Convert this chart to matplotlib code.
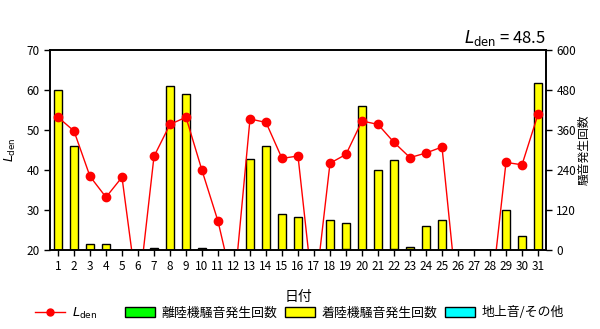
import matplotlib
matplotlib.use("Agg")
import matplotlib.pyplot as plt
import numpy as np
from matplotlib.lines import Line2D
from matplotlib.patches import Patch

plt.rcParams['font.family'] = ['Noto Sans CJK JP', 'DejaVu Sans']

days = list(range(1, 32))
day_labels = [str(d) for d in days]
lden = [53.2, 49.75, 38.4, 33.2, 38.2, 8, 43.4, 51.4, 53.2, 39.9,
        27.2, 10, 52.75, 51.9, 42.9, 43.5, 7, 41.7, 43.9, 52.25,
        51.4, 46.9, 43.1, 44.25, 45.75, 6, 6, 6, 41.9, 41.3, 53.9]
departure = [0, 0, 0, 0, 0, 0, 0, 0, 0, 0,
             0, 0, 0, 0, 0, 0, 0, 0, 4, 0,
             0, 2, 2, 0, 0, 0, 0, 0, 0, 0, 0]
arrival = [480, 312, 18, 18, 0, 0, 5, 492, 468, 5,
           0, 0, 272, 312, 107, 98, 0, 89, 76, 432,
           240, 267, 6, 71, 89, 0, 0, 0, 119, 41, 500]
ground = [0] * 31
lden_mean = 48.5

fig = plt.figure(figsize=(6.0, 3.29), dpi=100)
ax = fig.add_axes([50/600, 1 - 250/329, 496/600, 200/329])
ax2 = ax.twinx()

x = np.array(days)
w = 0.5
dep = np.array(departure)
arr = np.array(arrival)
gnd = np.array(ground)
ax2.bar(x, dep, width=w, color='#00ff00', edgecolor='black', linewidth=1)
ax2.bar(x, arr, width=w, bottom=dep, color='#ffff00', edgecolor='black', linewidth=1)
ax2.bar(x, gnd, width=w, bottom=dep + arr, color='#00ffff', edgecolor='black', linewidth=0)

ax.set_zorder(ax2.get_zorder() + 1)
ax.patch.set_visible(False)
ax.plot(x, lden, color='red', linewidth=1, marker='o', markersize=6,
        markerfacecolor='red', markeredgecolor='red')

ax.set_xlim(0.5, 31.5)
ax.set_ylim(20, 70)
ax.set_yticks([20, 30, 40, 50, 60, 70])
ax2.set_ylim(0, 600)
ax2.set_yticks([0, 120, 240, 360, 480, 600])
ax.set_xticks(x)
ax.set_xticklabels(day_labels)

for a in (ax, ax2):
    a.tick_params(direction='out', length=4, width=1, labelsize=8.5, colors='black')
    for s in a.spines.values():
        s.set_linewidth(1.2)

ax.set_ylabel(r'$L_{\rm den}$', fontsize=9, labelpad=6)
ax2.set_ylabel('騒音発生回数', fontsize=8.5, rotation=90, labelpad=1)
ax.set_xlabel('日付', fontsize=10, labelpad=12)

fig.text(546/600, 1 - 43/329, r'$L_{\rm den}$' + f' = {lden_mean}', fontsize=12,
         ha='right', va='baseline')

handles = [
    Line2D([0], [0], color='red', marker='o', markersize=5, linewidth=1),
    Patch(facecolor='#00ff00', edgecolor='black'),
    Patch(facecolor='#ffff00', edgecolor='black'),
    Patch(facecolor='#00ffff', edgecolor='black'),
]
labels = [r'$L_{\rm den}$', '離陸機騒音発生回数', '着陸機騒音発生回数', '地上音/その他']
lefts = [35, 125, 285, 445]
for h, lab, lx in zip(handles, labels, lefts):
    fig.legend([h], [lab], loc='center left', bbox_to_anchor=(lx/600, 1 - 313/329),
               frameon=False, fontsize=9.3, handlelength=2.3, handleheight=0.8,
               handletextpad=0.55, borderpad=0, borderaxespad=0)

fig.savefig('out.png', dpi=100)
